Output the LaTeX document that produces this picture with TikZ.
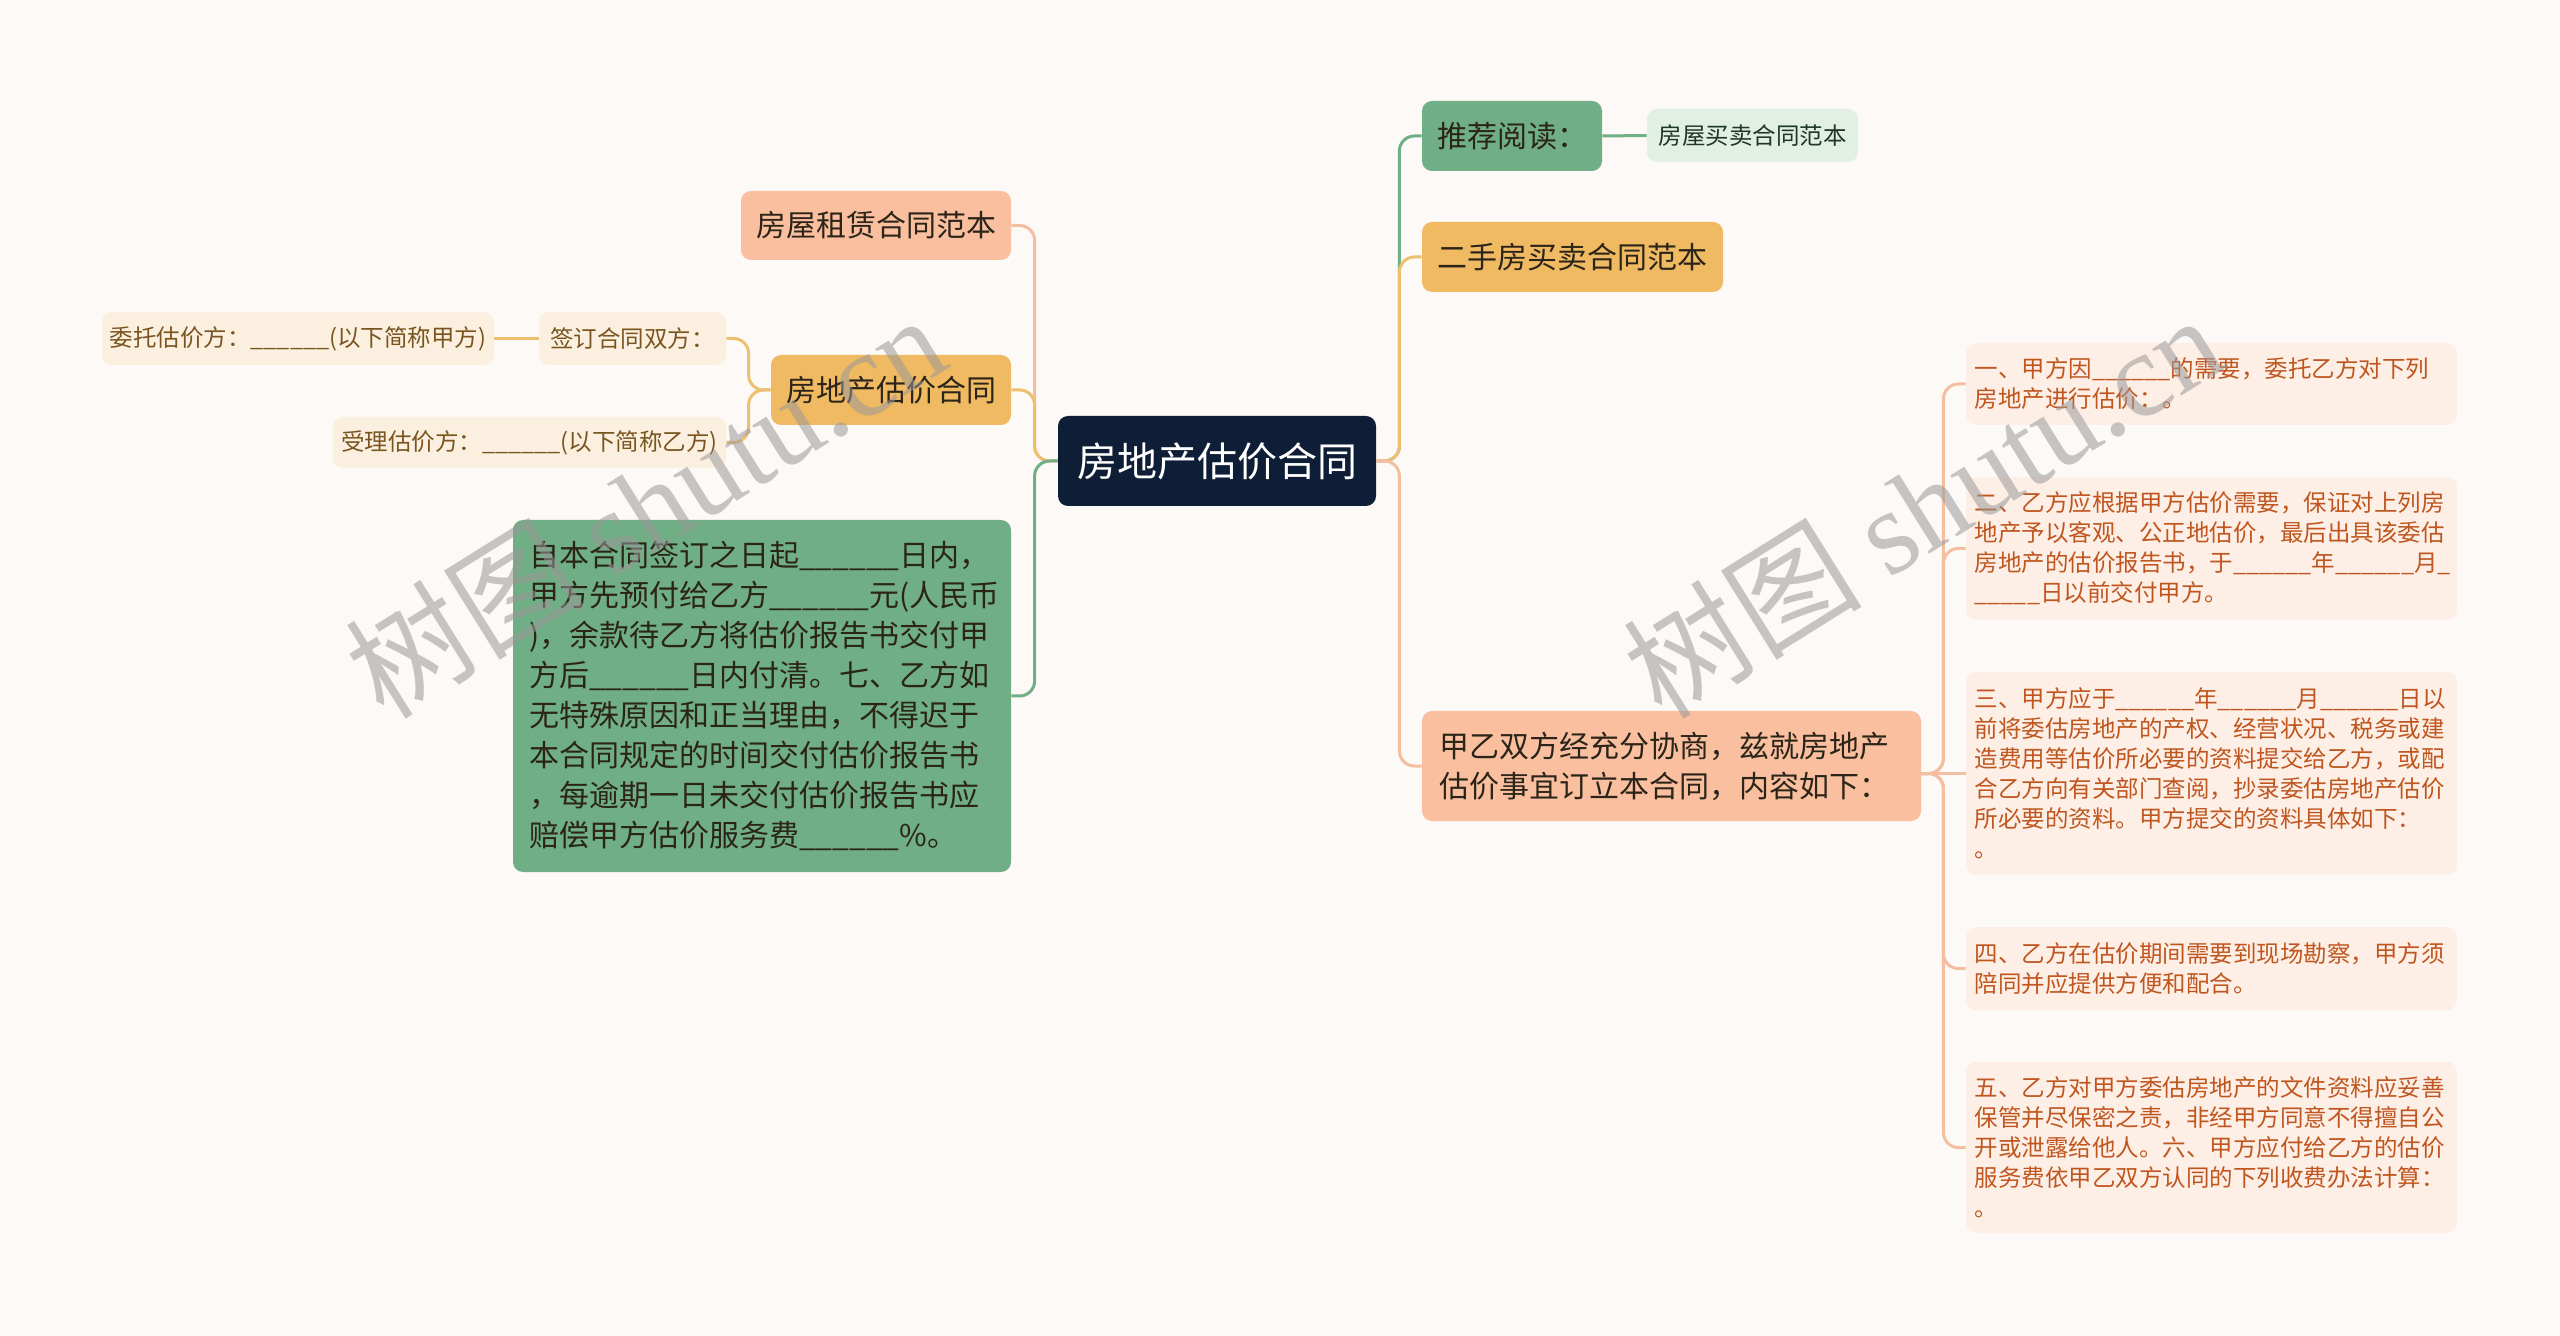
\documentclass[tikz,border=0pt]{standalone}
\usepackage{fontspec}
\newfontfamily\cjk{Noto Sans CJK SC}
\newfontfamily\wmserif{Liberation Serif}
\newcommand{\fsz}[2]{\fontsize{#1}{#2}\selectfont}
\newcommand{\blank}{\_\_\_\_\_\_}
\definecolor{bgcol}{HTML}{FDF9F6}
\definecolor{navy}{HTML}{0F1E37}
\definecolor{grn}{HTML}{70AF85}
\definecolor{grnlt}{HTML}{E1EFE5}
\definecolor{grntxt}{HTML}{1E3626}
\definecolor{org}{HTML}{F0BA63}
\definecolor{sal}{HTML}{F9BF9F}
\definecolor{peach}{HTML}{FDEFE6}
\definecolor{peachtxt}{HTML}{C0561F}
\definecolor{cream}{HTML}{FBF0DF}
\definecolor{creamtxt}{HTML}{7A5520}
\definecolor{darktxt}{HTML}{2B2418}
\definecolor{lnsal}{HTML}{F3BFA0}
\definecolor{lnorg}{HTML}{ECC070}
\tikzset{
  box/.style={shape=rectangle,rounded corners=5pt,inner sep=0pt},
  rootbox/.style={box,fill=navy,text=white,minimum width=159pt,minimum height=45pt,font=\cjk\fsz{20pt}{24pt}},
  lvone/.style={box,text=darktxt,minimum height=35pt,font=\cjk\fsz{15pt}{20pt}},
  small/.style={box,font=\cjk\fsz{11.75pt}{15pt}},
  note/.style={small,fill=peach,text=peachtxt,text width=237pt,inner xsep=4.25pt,align=left},
  link/.style={line width=1.5pt,rounded corners=7.5pt},
  wmark/.style={rotate=32,text=black!40,text opacity=0.55,font=\cjk\fsz{60pt}{60pt}}
}
\begin{document}
\begin{tikzpicture}[x=0.5pt,y=-0.5pt]
\useasboundingbox (0,0) rectangle (2560,1336);
\fill[bgcol] (0,0) rectangle (2560,1336);

\node[rootbox](root) at (1217,461){房地产估价合同};

\node[lvone,fill=grn,minimum width=90pt](tuijian) at (1512,136){推荐阅读：};
\node[small,fill=grnlt,text=grntxt,minimum width=105.5pt,minimum height=26.5pt](maimai) at (1752.5,135.5){房屋买卖合同范本};
\node[lvone,fill=org,minimum width=150.5pt](ershou) at (1572.5,257){二手房买卖合同范本};
\node[lvone,fill=sal,text width=232.5pt,inner xsep=8.5pt,minimum height=55pt,align=left](jiayi) at (1671.5,766){甲乙双方经充分协商，兹就房地产\\估价事宜订立本合同，内容如下：};

\node[note,minimum height=41pt](fr1) at (2211.5,384){一、甲方因\blank 的需要，委托乙方对下列\\房地产进行估价：。};
\node[note,minimum height=71.5pt](fr2) at (2211.5,548.5){二、乙方应根据甲方估价需要，保证对上列房\\地产予以客观、公正地估价，最后出具该委估\\房地产的估价报告书，于\blank 年\blank 月\_\\\_\_\_\_\_日以前交付甲方。};
\node[note,minimum height=101.5pt](fr3) at (2211.5,773.5){三、甲方应于\blank 年\blank 月\blank 日以\\前将委估房地产的产权、经营状况、税务或建\\造费用等估价所必要的资料提交给乙方，或配\\合乙方向有关部门查阅，抄录委估房地产估价\\所必要的资料。甲方提交的资料具体如下：\\。};
\node[note,minimum height=41.5pt](fr4) at (2211.5,968.5){四、乙方在估价期间需要到现场勘察，甲方须\\陪同并应提供方便和配合。};
\node[note,minimum height=85.5pt](fr5) at (2211.5,1147.5){五、乙方对甲方委估房地产的文件资料应妥善\\保管并尽保密之责，非经甲方同意不得擅自公\\开或泄露给他人。六、甲方应付给乙方的估价\\服务费依甲乙双方认同的下列收费办法计算：\\。};

\node[lvone,fill=sal,minimum width=135pt,minimum height=34.5pt](zulin) at (876,225.5){房屋租赁合同范本};
\node[lvone,fill=org,minimum width=120pt](gujia) at (891,390){房地产估价合同};
\node[small,fill=cream,text=creamtxt,minimum width=93.5pt,minimum height=26.5pt](qianding) at (632.5,338.5){签订合同双方：};
\node[small,fill=cream,text=creamtxt,minimum width=196pt,minimum height=26.5pt](weituo) at (298,338.5){委托估价方：\blank(以下简称甲方)};
\node[small,fill=cream,text=creamtxt,minimum width=196.5pt,minimum height=25.5pt](shouli) at (529.5,442.5){受理估价方：\blank(以下简称乙方)};
\node[lvone,fill=grn,text width=233pt,inner xsep=8pt,minimum height=176pt,align=left](fukuan) at (762,696){自本合同签订之日起\blank 日内，\\甲方先预付给乙方\blank 元(人民币\\)，余款待乙方将估价报告书交付甲\\方后\blank 日内付清。七、乙方如\\无特殊原因和正当理由，不得迟于\\本合同规定的时间交付估价报告书\\，每逾期一日未交付估价报告书应\\赔偿甲方估价服务费\blank \%。};

\draw[link,grn] (root.east) -- ++(23,0) |- (tuijian.west);
\draw[link,lnorg] (root.east) -- ++(23,0) |- (ershou.west);
\draw[link,lnsal] (root.east) -- ++(23,0) |- (jiayi.west);
\draw[link,grn] (tuijian.east) -- (maimai.west);

\draw[link,lnsal] (jiayi.east |- fr3.west) -- ++(22,0) |- (fr1.west);
\draw[link,lnsal] (jiayi.east |- fr3.west) -- ++(22,0) |- (fr2.west);
\draw[link,lnsal] (jiayi.east |- fr3.west) -- ++(22,0) |- (fr4.west);
\draw[link,lnsal] (jiayi.east |- fr3.west) -- ++(22,0) |- (fr5.west);
\draw[link,lnsal] (jiayi.east |- fr3.west) -- (fr3.west);

\draw[link,lnsal] (root.west) -- ++(-23,0) |- (zulin.east);
\draw[link,lnorg] (root.west) -- ++(-23,0) |- (gujia.east);
\draw[link,grn] (root.west) -- ++(-23,0) |- (fukuan.east);

\draw[link,lnorg] (gujia.west) -- ++(-22,0) |- (qianding.east);
\draw[link,lnorg] (gujia.west) -- ++(-22,0) |- (shouli.east);
\draw[link,lnorg] (qianding.west) -- (weituo.east);

\node[wmark](wmleft) at (645,505){树图 {\wmserif shutu.cn}};
\node[wmark](wmright) at (1922,505){树图 {\wmserif shutu.cn}};
\end{tikzpicture}
\end{document}
